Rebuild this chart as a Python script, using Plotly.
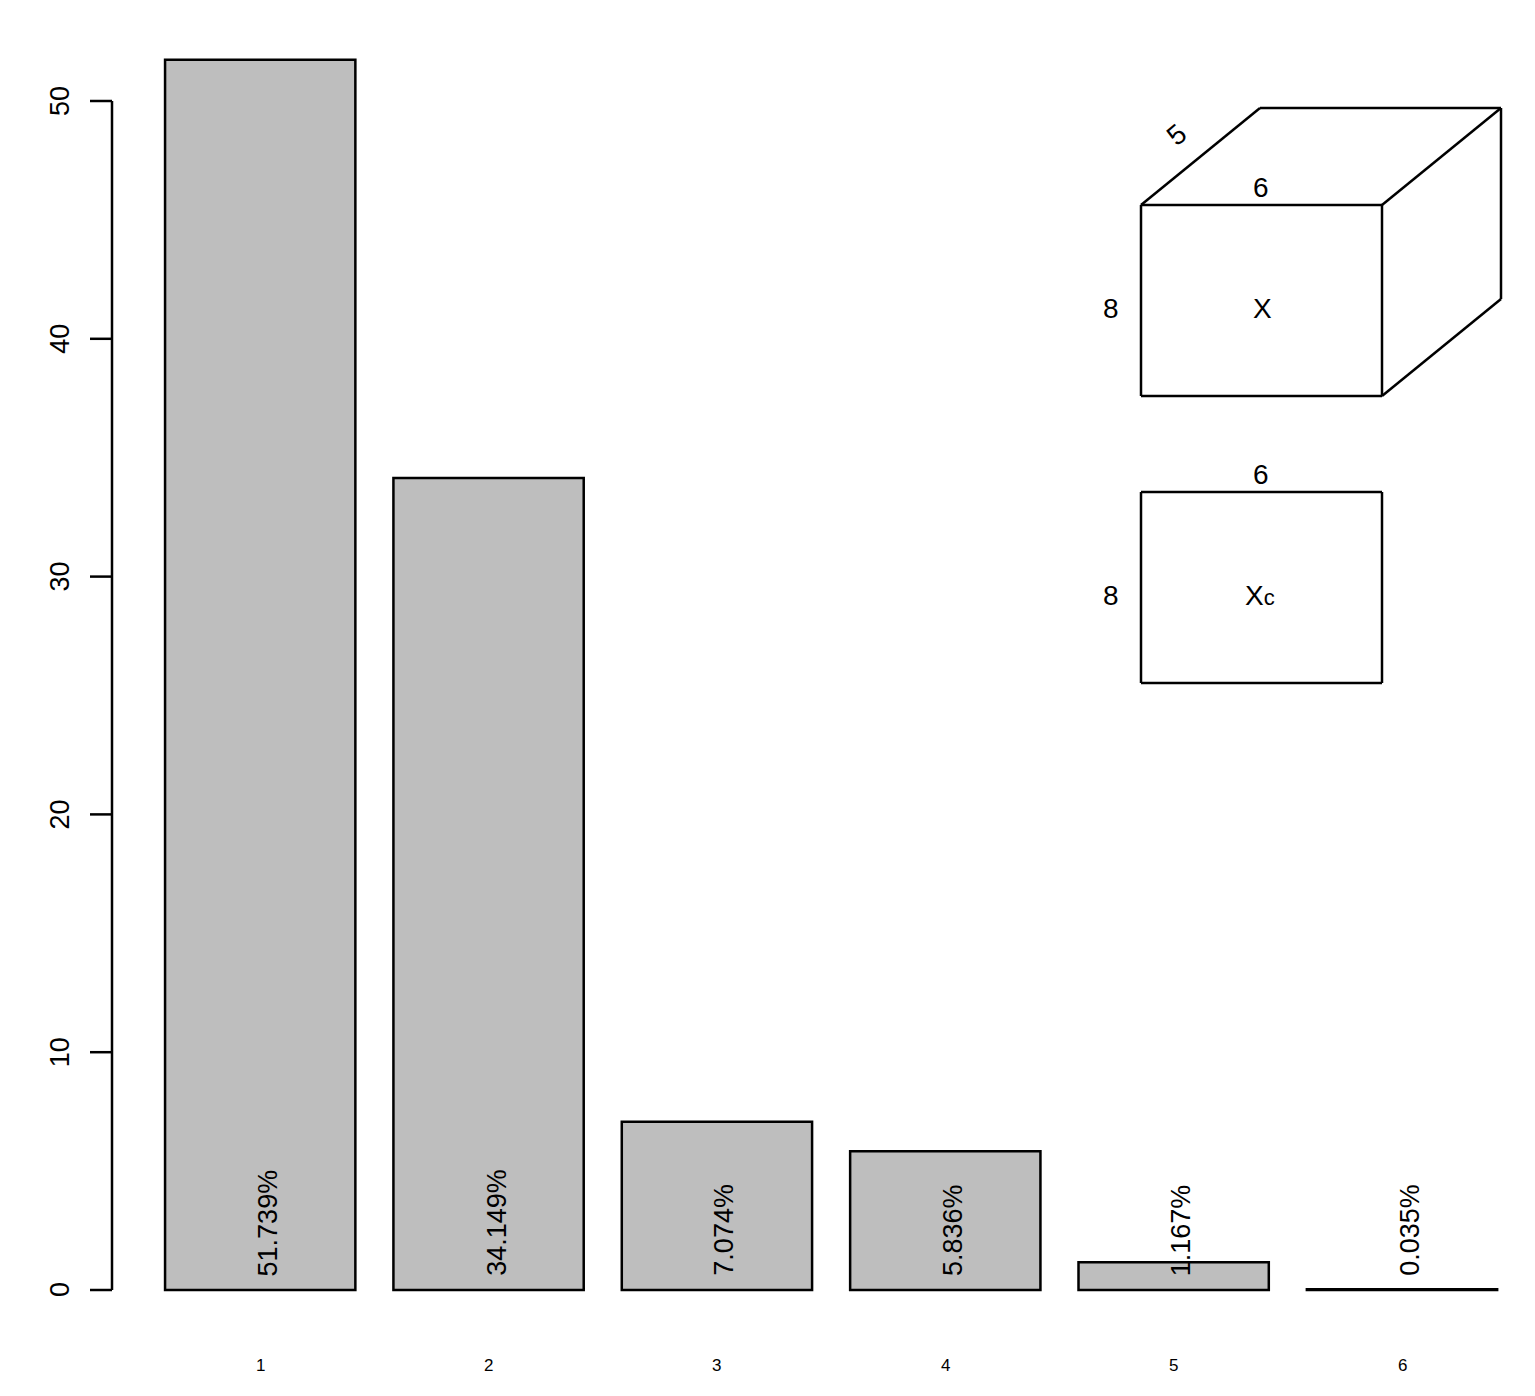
import plotly.graph_objects as go

categories = ["1", "2", "3", "4", "5", "6"]
values = [51.739, 34.149, 7.074, 5.836, 1.167, 0.035]
labels = ["51.739%", "34.149%", "7.074%", "5.836%", "1.167%", "0.035%"]
y_ticks = [0, 10, 20, 30, 40, 50]

centers = [0.7 + 1.2 * i for i in range(len(values))]

W, H = 1535, 1396
L, R, T, B = 112, 1500, 40, 1300
OFF = 8  # page body margin

def px(x):
    return (x - L) / (R - L)

def py(y):
    return (B - y) / (B - T)

FONT = "Liberation Sans, Arial, sans-serif"

fig = go.Figure(go.Bar(
    x=centers, y=values, width=1.0,
    marker=dict(color="#bebebe", line=dict(color="black", width=2.5)),
))

annotations = []
for c, v, lab in zip(centers, values, labels):
    annotations.append(dict(x=c + 0.04, y=0.5, text=lab, showarrow=False, textangle=-90,
                            yanchor="bottom", xanchor="center",
                            font=dict(size=27, family=FONT, color="black")))
for c, cat in zip(centers, categories):
    annotations.append(dict(x=c, y=py(1365), yref="paper", text=cat, showarrow=False,
                            xanchor="center", yanchor="middle",
                            font=dict(size=17, family=FONT, color="black")))

shapes = [dict(type="line", xref="paper", x0=0, x1=0, y0=0, y1=50,
               line=dict(color="black", width=2.5))]
for t in y_ticks:
    shapes.append(dict(type="line", xref="paper", x0=px(90), x1=0, y0=t, y1=t,
                       line=dict(color="black", width=2.5)))
    annotations.append(dict(x=px(60), xref="paper", y=t, text=str(t), showarrow=False,
                            textangle=-90, xanchor="center", yanchor="middle",
                            font=dict(size=27, family=FONT, color="black")))

# schematic boxes
def seg(x0, y0, x1, y1):
    shapes.append(dict(type="line", xref="paper", yref="paper",
                       x0=px(x0), y0=py(y0), x1=px(x1), y1=py(y1),
                       line=dict(color="black", width=2.5)))

fx0, fx1, fy0, fy1, dx, dy = 1141, 1382, 205, 396, 119, -97
seg(fx0, fy0, fx1, fy0); seg(fx1, fy0, fx1, fy1); seg(fx1, fy1, fx0, fy1); seg(fx0, fy1, fx0, fy0)
seg(fx0, fy0, fx0 + dx, fy0 + dy); seg(fx0 + dx, fy0 + dy, fx1 + dx, fy0 + dy)
seg(fx1, fy0, fx1 + dx, fy0 + dy); seg(fx1 + dx, fy0 + dy, fx1 + dx, fy1 + dy)
seg(fx1, fy1, fx1 + dx, fy1 + dy)
sy0, sy1 = 492, 683
seg(fx0, sy0, fx1, sy0); seg(fx1, sy0, fx1, sy1); seg(fx1, sy1, fx0, sy1); seg(fx0, sy1, fx0, sy0)

for x, y, t, a in [(1177, 135, "5", -40), (1261, 187, "6", 0), (1111, 308, "8", 0),
                   (1262, 308, "X", 0), (1261, 474, "6", 0), (1111, 595, "8", 0),
                   (1260, 595, "X<span style='font-size:22px'>c</span>", 0)]:
    annotations.append(dict(x=px(x), y=py(y), xref="paper", yref="paper", text=t,
                            showarrow=False, textangle=a, xanchor="center", yanchor="middle",
                            font=dict(size=28, family=FONT, color="black")))

fig.update_layout(
    width=W, height=H,
    margin=dict(l=L - OFF, r=W - R + OFF, t=T - OFF, b=H - B + OFF),
    paper_bgcolor="white", plot_bgcolor="white", showlegend=False,
    xaxis=dict(range=[(L - 127) / 190.3, (R - 127) / 190.3], visible=False),
    yaxis=dict(range=[(1290 - B) / 23.78, (1290 - T) / 23.78], visible=False),
    shapes=shapes, annotations=annotations,
)

fig.write_html("out.html")
